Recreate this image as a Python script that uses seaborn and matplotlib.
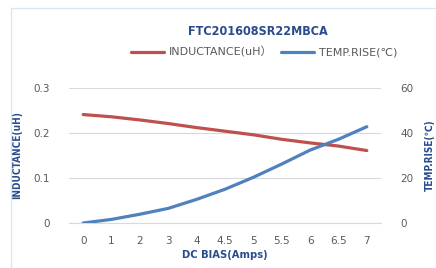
import numpy as np
import pandas as pd
import matplotlib
matplotlib.use('Agg')
import matplotlib.pyplot as plt
import seaborn as sns
from matplotlib.patches import Rectangle

# Data
dc_bias = ['0', '1', '2', '3', '4', '4.5', '5', '5.5', '6', '6.5', '7']
inductance = [0.241, 0.236, 0.229, 0.221, 0.212, 0.204, 0.196, 0.186, 0.178, 0.171, 0.161]
temp_rise = [0.0, 1.6, 3.9, 6.5, 10.5, 15.0, 20.3, 26.2, 32.4, 37.2, 42.8]

df = pd.DataFrame({'pos': np.arange(len(dc_bias)), 'bias': dc_bias,
                   'ind': inductance, 'temp': temp_rise})

sns.set_style('white')
plt.rcParams['font.family'] = ['DejaVu Sans', 'Noto Sans CJK SC']

red = '#c0504d'
blue = '#4f81bd'
navy = '#2a4c8c'
grey = '#595959'

fig = plt.figure(figsize=(4.36, 2.68), dpi=100)
fig.patch.set_facecolor('white')
fig.patches.append(Rectangle((11 / 436, -0.1), 1.2, 1 - 8 / 268 + 0.1, transform=fig.transFigure,
                             fill=False, edgecolor='#dce6f2', linewidth=1.0))

ax = fig.add_axes([69 / 436, 1 - 223 / 268, 312 / 436, 135 / 268])
ax2 = ax.twinx()

sns.lineplot(data=df, x='pos', y='ind', ax=ax, color=red, linewidth=2.3, label='INDUCTANCE(uH）', legend=False)
sns.lineplot(data=df, x='pos', y='temp', ax=ax2, color=blue, linewidth=2.3, label='TEMP.RISE(℃)', legend=False)

ax.set_xlim(-0.5, len(dc_bias) - 0.5)
ax.set_ylim(0, 0.3)
ax2.set_ylim(0, 60)
ax.set_yticks([0, 0.1, 0.2, 0.3])
ax.set_yticklabels(['0', '0.1', '0.2', '0.3'])
ax2.set_yticks([0, 20, 40, 60])
ax.set_xticks(df['pos'])
ax.set_xticklabels(dc_bias)
ax.set_xticks(np.arange(-0.5, len(dc_bias)), minor=True)

ax.grid(axis='y', color='#d9d9d9', linewidth=0.8)
ax.set_axisbelow(True)
for a in (ax, ax2):
    for s in a.spines.values():
        s.set_visible(False)
ax.spines['bottom'].set_visible(True)
ax.spines['bottom'].set_color('#d9d9d9')

ax.tick_params(axis='x', which='major', length=0, pad=9, labelsize=7.5, labelcolor=grey)
ax.tick_params(axis='x', which='minor', length=4, color='#d9d9d9', direction='out')
ax.tick_params(axis='y', length=0, pad=14, labelsize=7.5, labelcolor=grey)
ax2.tick_params(axis='y', length=0, pad=14, labelsize=7.5, labelcolor=grey)

ax.set_xlabel('DC BIAS(Amps)', fontsize=7.2, color=navy, fontweight='bold', labelpad=3)
ax.set_ylabel('INDUCTANCE(uH)', fontsize=7.2, color=navy, fontweight='bold', fontstretch='condensed', labelpad=8)
ax2.set_ylabel('TEMP.RISE(℃)', fontsize=7.2, color=navy, fontweight='bold', fontstretch='condensed', labelpad=8)

fig.text(258 / 436, 1 - 31 / 268, 'FTC201608SR22MBCA', ha='center', va='center',
         fontsize=9, fontweight='bold', color=navy, fontstretch='condensed')

h1, l1 = ax.get_legend_handles_labels()
h2, l2 = ax2.get_legend_handles_labels()
fig.legend(h1 + h2, l1 + l2, loc='center', bbox_to_anchor=(264 / 436, 1 - 52 / 268), ncol=2,
           frameon=False, fontsize=8, handlelength=3.0, columnspacing=0.8, handletextpad=0.4,
           labelcolor=grey)

fig.savefig('out.png', dpi=100)
